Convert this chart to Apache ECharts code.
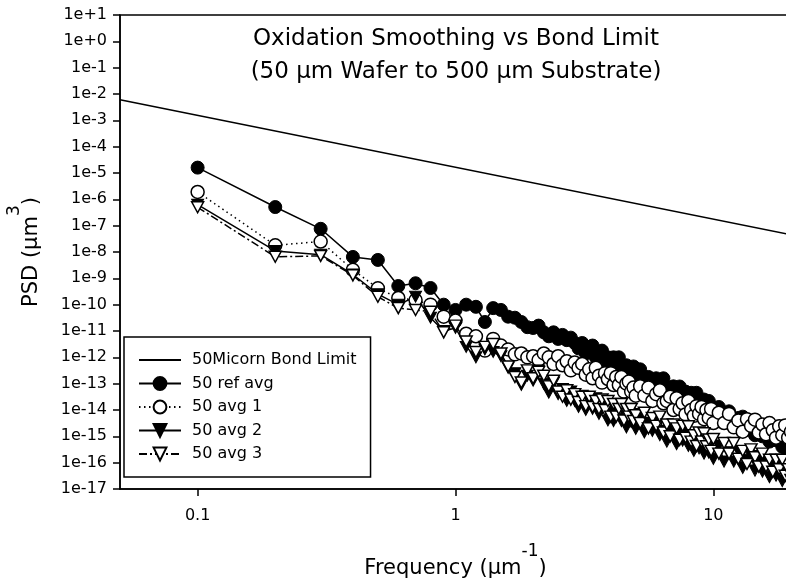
<!DOCTYPE html>
<html><head><meta charset="utf-8">
<script src="https://cdn.jsdelivr.net/npm/echarts@6/dist/echarts.min.js"></script>
<style>html,body{margin:0;padding:0;background:#fff}#c{width:786px;height:579px}</style>
</head><body><div id="c"></div>
<script>
// ---------- data ----------
const freq = [
  0.1,0.2,0.3,0.4,0.5,0.6,0.7,0.8,0.9,1.0,
  1.1,1.2,1.3,1.4,1.5,1.6,1.7,1.8,1.9,2.0,
  2.1,2.2,2.3,2.4,2.5,2.6,2.7,2.8,2.9,3.0,
  3.1,3.2,3.3,3.4,3.5,3.6,3.7,3.8,3.9,4.0,
  4.1,4.2,4.3,4.4,4.5,4.6,4.7,4.8,4.9,5.0,
  5.2,5.4,5.6,5.8,6.0,6.2,6.4,6.6,6.8,7.0,
  7.2,7.4,7.6,7.8,8.0,8.2,8.4,8.6,8.8,9.0,
  9.2,9.4,9.6,9.8,10.0,
  10.5,11,11.5,12,12.5,13,13.5,14,14.5,15,
  15.5,16,16.5,17,17.5,18,18.5,19,19.5,20
];
const refAvg = [
  1.6e-5,5.1e-7,7.6e-8,6.5e-9,5.0e-9,5.1e-10,6.5e-10,4.3e-10,1.0e-10,6.3e-11,
  1.0e-10,8.3e-11,2.2e-11,7.4e-11,6.3e-11,3.5e-11,3.2e-11,2.2e-11,1.4e-11,1.3e-11,
  1.6e-11,8.9e-12,6.3e-12,8.9e-12,5.0e-12,7.1e-12,4.5e-12,5.6e-12,3.5e-12,2.2e-12,
  3.5e-12,1.4e-12,2.5e-12,2.8e-12,1.0e-12,1.3e-12,1.8e-12,5.6e-13,1.0e-12,6.3e-13,
  1.0e-12,4.5e-13,1.0e-12,2.8e-13,4.0e-13,5.0e-13,1.8e-13,3.5e-13,4.5e-13,1.6e-13,
  3.5e-13,1.3e-13,1.8e-13,7.1e-14,1.6e-13,8.9e-14,1.6e-13,5.0e-14,7.1e-14,7.9e-14,
  3.0e-14,7.8e-14,4.0e-14,5.0e-14,1.8e-14,4.5e-14,2.2e-14,4.5e-14,1.4e-14,2.2e-14,
  2.5e-14,1.0e-14,2.2e-14,1.1e-14,6.3e-15,
  1.3e-14,5.0e-15,8.9e-15,2.5e-15,5.0e-15,5.6e-15,1.8e-15,2.5e-15,1.1e-15,2.5e-15,
  1.0e-15,1.8e-15,6.3e-16,1.1e-15,7.1e-16,1.1e-15,4.0e-16,6.3e-16,2.5e-16,4.5e-16
];
const avg1 = [
  1.9e-6,1.8e-8,2.5e-8,2.1e-9,4.2e-10,1.8e-10,1.5e-10,1.0e-10,3.5e-11,2.5e-11,
  7.9e-12,6.3e-12,1.8e-12,5.0e-12,2.8e-12,2.0e-12,1.3e-12,1.4e-12,1.0e-12,1.1e-12,
  7.9e-13,1.4e-12,1.0e-12,5.6e-13,1.1e-12,5.0e-13,7.1e-13,3.2e-13,6.3e-13,4.0e-13,
  5.6e-13,2.2e-13,3.5e-13,1.6e-13,4.0e-13,2.0e-13,1.1e-13,2.5e-13,1.5e-13,2.5e-13,
  8.9e-14,1.8e-13,8.9e-14,1.8e-13,5.0e-14,1.0e-13,1.2e-13,5.0e-14,7.1e-14,3.5e-14,
  7.9e-14,3.5e-14,7.1e-14,2.2e-14,4.0e-14,5.6e-14,1.8e-14,2.2e-14,3.2e-14,1.0e-14,
  2.8e-14,1.1e-14,1.8e-14,6.8e-15,2.2e-14,1.0e-14,6.0e-15,1.4e-14,7.1e-15,1.3e-14,
  4.5e-15,1.0e-14,5.0e-15,1.1e-14,3.2e-15,
  7.9e-15,3.2e-15,7.1e-15,2.2e-15,4.0e-15,1.5e-15,4.5e-15,2.5e-15,4.3e-15,1.4e-15,
  2.8e-15,1.2e-15,3.2e-15,1.7e-15,8.9e-16,2.4e-15,1.1e-15,2.6e-15,8.9e-16,1.5e-15
];
const avg2 = [
  6.3e-7,1.1e-8,7.9e-9,1.4e-9,2.5e-10,1.0e-10,2.0e-10,3.2e-11,1.0e-11,1.3e-11,
  2.5e-12,1.0e-12,2.0e-12,1.6e-12,1.1e-12,4.0e-13,2.5e-13,8.9e-14,2.0e-13,1.3e-13,
  3.2e-13,1.0e-13,4.5e-14,1.1e-13,4.0e-14,6.3e-14,2.2e-14,5.0e-14,2.2e-14,1.3e-14,
  3.5e-14,1.0e-14,2.2e-14,1.1e-14,2.8e-14,7.1e-15,1.1e-14,1.6e-14,4.0e-15,8.9e-15,
  3.8e-15,1.0e-14,1.3e-14,3.8e-15,5.6e-15,2.2e-15,7.6e-15,3.5e-15,7.1e-15,1.9e-15,
  5.6e-15,1.4e-15,3.2e-15,1.6e-15,4.0e-15,1.1e-15,1.6e-15,6.3e-16,2.0e-15,8.9e-16,
  5.0e-16,1.5e-15,6.9e-16,1.6e-15,4.3e-16,7.9e-16,2.8e-16,8.5e-16,3.5e-16,8.9e-16,
  2.2e-16,5.2e-16,2.4e-16,6.3e-16,1.4e-16,
  4.5e-16,1.1e-16,2.5e-16,1.1e-16,2.8e-16,6.3e-17,1.3e-16,1.8e-16,5.0e-17,1.1e-16,
  4.5e-17,1.1e-16,2.8e-17,7.1e-17,3.2e-17,8.9e-17,2.0e-17,3.5e-17,5.0e-17,1.4e-17
];
const avg3 = [
  5.0e-7,6.6e-9,7.1e-9,1.3e-9,2.0e-10,7.4e-11,6.3e-11,5.4e-11,8.9e-12,1.6e-11,
  4.0e-12,1.6e-12,2.5e-12,3.2e-12,1.4e-12,4.5e-13,1.8e-13,1.1e-13,3.2e-13,1.6e-13,
  2.8e-13,2.0e-13,7.9e-14,1.3e-13,5.0e-14,3.2e-14,5.6e-14,2.5e-14,4.0e-14,2.0e-14,
  3.2e-14,1.4e-14,3.2e-14,1.3e-14,2.2e-14,1.1e-14,2.5e-14,1.0e-14,2.2e-14,5.6e-15,
  1.7e-14,5.6e-15,1.1e-14,1.7e-14,4.0e-15,1.1e-14,5.6e-15,1.1e-14,3.8e-15,6.3e-15,
  3.2e-15,7.9e-15,2.0e-15,5.0e-15,2.5e-15,5.6e-15,1.4e-15,2.8e-15,1.0e-15,2.8e-15,
  2.0e-15,7.4e-16,2.5e-15,8.9e-16,2.4e-15,6.3e-16,1.1e-15,4.3e-16,1.4e-15,6.3e-16,
  1.3e-15,4.2e-16,7.6e-16,2.8e-16,7.9e-16,
  2.2e-16,5.6e-16,2.2e-16,5.6e-16,1.4e-16,2.8e-16,8.9e-17,3.2e-16,1.6e-16,7.1e-17,
  2.2e-16,7.1e-17,1.3e-16,4.5e-17,1.3e-16,5.6e-17,1.3e-16,3.2e-17,5.6e-17,2.2e-17
];
const bondFreq = [0.05, 20];
const bondPsd = [6.0e-3, 4.5e-8];

const seriesNames = ['50Micorn Bond Limit','50 ref avg','50 avg 1','50 avg 2','50 avg 3'];
const xTickValues = [0.1, 1, 10];
const xTickLabels = ['0.1', '1', '10'];
const yTickValues = [1e1,1e0,1e-1,1e-2,1e-3,1e-4,1e-5,1e-6,1e-7,1e-8,1e-9,1e-10,1e-11,1e-12,1e-13,1e-14,1e-15,1e-16,1e-17];
const yTickLabels = ['1e+1','1e+0','1e-1','1e-2','1e-3','1e-4','1e-5','1e-6','1e-7','1e-8','1e-9','1e-10','1e-11','1e-12','1e-13','1e-14','1e-15','1e-16','1e-17'];
const titleLines = ['Oxidation Smoothing vs Bond Limit', '(50 \u03bcm Wafer to 500 \u03bcm Substrate)'];

// ---------- chart ----------
function pairs(xs, ys) { return xs.map((x, i) => [x, ys[i]]); }
function labelFor(values, labels) {
  return function (v) {
    for (let i = 0; i < values.length; i++) {
      if (Math.abs(Math.log10(v) - Math.log10(values[i])) < 1e-6) return labels[i];
    }
    return '';
  };
}
const triDown = 'path://M0,0L12,0L6,11Z';
const chart = echarts.init(document.getElementById('c'), null, { renderer: 'canvas' });
const nameRich = {
  a: { fontFamily: 'DejaVu Sans', fontSize: 21, color: '#000', padding: [17, 0, 0, 0] },
  s: { fontFamily: 'DejaVu Sans', fontSize: 17, color: '#000', padding: [0, 0, 17, 0] }
};
const option = {
  animation: false,
  backgroundColor: '#fff',
  grid: { left: 120, right: -5, top: 15, bottom: 90, containLabel: false, outerBoundsMode: 'none',
          show: true, borderColor: '#000', borderWidth: 1.5, backgroundColor: 'transparent' },
  xAxis: {
    type: 'log', logBase: 10, min: 0.05, max: 20,
    name: '{a|Frequency (\u03bcm}{s|-1}{a|)}', nameLocation: 'middle', nameGap: 52,
    nameTextStyle: { rich: nameRich },
    axisLine: { show: true, lineStyle: { color: '#000', width: 1.5 } },
    axisTick: { show: true, inside: false, length: 7, lineStyle: { color: '#000', width: 1.5 }, customValues: xTickValues },
    minorTick: { show: false },
    splitLine: { show: false },
    axisLabel: { fontFamily: 'DejaVu Sans', fontSize: 16, color: '#000', margin: 19, customValues: xTickValues, formatter: labelFor(xTickValues, xTickLabels) }
  },
  yAxis: {
    type: 'log', logBase: 10, min: 1e-17, max: 10,
    name: '{a|PSD (\u03bcm}{s|3}{a|)}', nameLocation: 'middle', nameGap: 78, nameRotate: 90,
    nameTextStyle: { rich: nameRich },
    axisLine: { show: true, lineStyle: { color: '#000', width: 1.5 } },
    axisTick: { show: true, inside: false, length: 7, lineStyle: { color: '#000', width: 1.5 }, customValues: yTickValues },
    minorTick: { show: false },
    splitLine: { show: false },
    axisLabel: { fontFamily: 'DejaVu Sans', fontSize: 16, color: '#000', margin: 13, customValues: yTickValues, formatter: labelFor(yTickValues, yTickLabels) }
  },
  legend: {
    orient: 'vertical', left: 124, top: 337,
    padding: [15, 14, 15, 14], itemWidth: 42, itemHeight: 16, itemGap: 7.5,
    borderColor: '#000', borderWidth: 1.5, backgroundColor: '#fff',
    selectedMode: false,
    textStyle: { fontFamily: 'DejaVu Sans', fontSize: 16, color: '#000', padding: [0, 0, 0, 6] },
    data: [
      { name: seriesNames[0], itemStyle: { opacity: 0 } },
      seriesNames[1], seriesNames[2], seriesNames[3], seriesNames[4]
    ]
  },
  graphic: [
    { type: 'text', z: 100, style: { x: 456, y: 39, text: titleLines[0], fill: '#000', font: '23px "DejaVu Sans"', align: 'center', verticalAlign: 'middle', textAlign: 'center', textVerticalAlign: 'middle' } },
    { type: 'text', z: 100, style: { x: 456, y: 72, text: titleLines[1], fill: '#000', font: '23px "DejaVu Sans"', align: 'center', verticalAlign: 'middle', textAlign: 'center', textVerticalAlign: 'middle' } }
  ],
  series: [
    { name: seriesNames[0], type: 'line', data: pairs(bondFreq, bondPsd), symbol: 'circle', showSymbol: false,
      lineStyle: { color: '#000', width: 1.5 }, itemStyle: { color: '#000' } },
    { name: seriesNames[1], type: 'line', data: pairs(freq, refAvg), symbol: 'circle', symbolSize: 13, showAllSymbol: true,
      lineStyle: { color: '#000', width: 1.5 }, itemStyle: { color: '#000', borderColor: '#000', borderWidth: 1 } },
    { name: seriesNames[2], type: 'line', data: pairs(freq, avg1), symbol: 'circle', symbolSize: 13, showAllSymbol: true,
      lineStyle: { color: '#000', width: 1.5, type: [1.5, 3.5] }, itemStyle: { color: '#fff', borderColor: '#000', borderWidth: 1.5 } },
    { name: seriesNames[3], type: 'line', data: pairs(freq, avg2), symbol: triDown, symbolSize: [12, 11], showAllSymbol: true,
      lineStyle: { color: '#000', width: 1.5 }, itemStyle: { color: '#000', borderColor: '#000', borderWidth: 1 } },
    { name: seriesNames[4], type: 'line', data: pairs(freq, avg3), symbol: triDown, symbolSize: [12, 11], showAllSymbol: true,
      lineStyle: { color: '#000', width: 1.5, type: [8, 3, 2, 3] }, itemStyle: { color: '#fff', borderColor: '#000', borderWidth: 1.5 } }
  ]
};
chart.setOption(option);
</script>
</body></html>
